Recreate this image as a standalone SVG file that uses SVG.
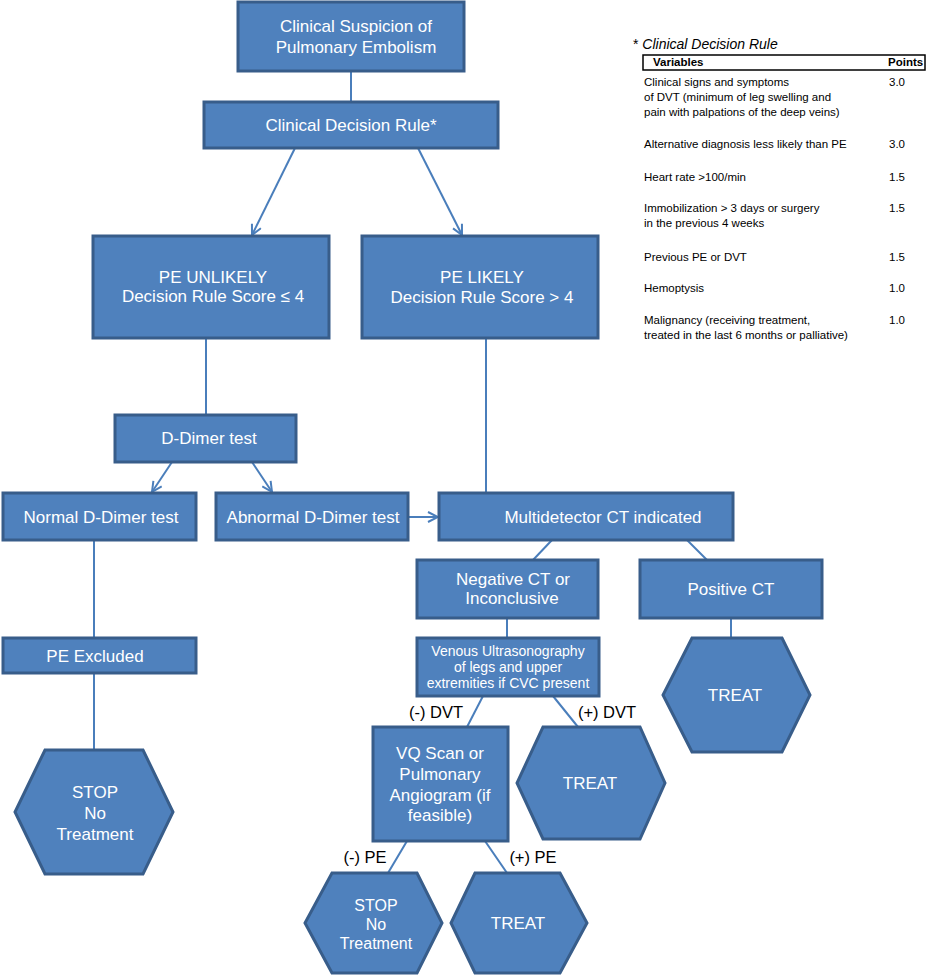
<svg xmlns="http://www.w3.org/2000/svg" width="933" height="980" viewBox="0 0 933 980">
<defs>
<style>
.box{fill:#4F81BD;stroke:#385D8A;stroke-width:3}
.t{font-family:"Liberation Sans",Arial,sans-serif;font-size:17px;fill:#fff;text-anchor:middle;dominant-baseline:central}
.ts{font-size:14px}
.lbl{font-family:"Liberation Sans",Arial,sans-serif;font-size:16.5px;fill:#000;text-anchor:middle;dominant-baseline:central}
.ln{stroke:#4A7EBB;stroke-width:2;fill:none}
.tb{font-family:"Liberation Sans",Arial,sans-serif;font-size:11.5px;fill:#000;dominant-baseline:central}
.b{font-weight:bold}
</style>
<marker id="arr" viewBox="0 0 12 12" refX="11" refY="6" markerWidth="12" markerHeight="12" markerUnits="userSpaceOnUse" orient="auto">
<path d="M1,1 L11,6 L1,11" fill="none" stroke="#4A7EBB" stroke-width="2"/>
</marker>
</defs>
<rect width="933" height="980" fill="#fff"/>

<g id="connectors">
<line class="ln" x1="351" y1="71" x2="351" y2="102"/>
<line class="ln" x1="295" y1="148" x2="252" y2="235" marker-end="url(#arr)"/>
<line class="ln" x1="418" y1="148" x2="462" y2="235" marker-end="url(#arr)"/>
<line class="ln" x1="206" y1="338" x2="206" y2="415"/>
<line class="ln" x1="172" y1="462" x2="152" y2="492" marker-end="url(#arr)"/>
<line class="ln" x1="252" y1="462" x2="272" y2="492" marker-end="url(#arr)"/>
<line class="ln" x1="408" y1="517" x2="438" y2="517" marker-end="url(#arr)"/>
<line class="ln" x1="486" y1="338" x2="486" y2="493"/>
<line class="ln" x1="94" y1="540" x2="94" y2="638"/>
<line class="ln" x1="94" y1="673" x2="94" y2="750"/>
<line class="ln" x1="552" y1="540" x2="533" y2="560"/>
<line class="ln" x1="687" y1="540" x2="707" y2="560"/>
<line class="ln" x1="507" y1="618" x2="507" y2="638"/>
<line class="ln" x1="731" y1="618" x2="731" y2="638"/>
<line class="ln" x1="483" y1="696" x2="467" y2="727"/>
<line class="ln" x1="553" y1="696" x2="578" y2="727"/>
<line class="ln" x1="407" y1="841" x2="388" y2="873"/>
<line class="ln" x1="485" y1="841" x2="507" y2="873"/>
<text class="lbl" x="436" y="712">(-) DVT</text>
<text class="lbl" x="607" y="712">(+) DVT</text>
<text class="lbl" x="365" y="857">(-) PE</text>
<text class="lbl" x="533" y="857">(+) PE</text>
</g>

<g id="n-suspicion">
<rect class="box" x="238" y="2" width="226" height="69"/>
<text class="t" x="356" y="26">Clinical Suspicion of</text>
<text class="t" x="356" y="47">Pulmonary Embolism</text>
</g>
<g id="n-rule">
<rect class="box" x="204" y="102" width="294" height="46"/>
<text class="t" x="351" y="125">Clinical Decision Rule*</text>
</g>
<g id="n-unlikely">
<rect class="box" x="93" y="236" width="236" height="102"/>
<text class="t" x="213" y="277">PE UNLIKELY</text>
<text class="t" x="213" y="296">Decision Rule Score ≤ 4</text>
</g>
<g id="n-likely">
<rect class="box" x="362" y="236" width="236" height="102"/>
<text class="t" x="482" y="277">PE LIKELY</text>
<text class="t" x="482" y="297">Decision Rule Score &gt; 4</text>
</g>
<g id="n-ddimer">
<rect class="box" x="115" y="415" width="181" height="47"/>
<text class="t" x="209" y="438">D-Dimer test</text>
</g>
<g id="n-normal">
<rect class="box" x="3" y="493" width="193" height="47"/>
<text class="t" x="101" y="517">Normal D-Dimer test</text>
</g>
<g id="n-abnormal">
<rect class="box" x="216" y="493" width="192" height="47"/>
<text class="t" x="313" y="517">Abnormal D-Dimer test</text>
</g>
<g id="n-mdct">
<rect class="box" x="439" y="493" width="294" height="47"/>
<text class="t" x="603" y="517">Multidetector CT indicated</text>
</g>
<g id="n-negct">
<rect class="box" x="417" y="560" width="181" height="58"/>
<text class="t" x="513" y="579">Negative CT or</text>
<text class="t" x="512" y="598">Inconclusive</text>
</g>
<g id="n-posct">
<rect class="box" x="640" y="560" width="182" height="58"/>
<text class="t" x="731" y="589">Positive CT</text>
</g>
<g id="n-excluded">
<rect class="box" x="3" y="638" width="193" height="35"/>
<text class="t" x="95" y="656">PE Excluded</text>
</g>
<g id="n-venous">
<rect class="box" x="417" y="638" width="182" height="58"/>
<text class="t ts" x="508" y="651">Venous Ultrasonography</text>
<text class="t ts" x="508" y="667">of legs and upper</text>
<text class="t ts" x="508" y="683">extremities if CVC present</text>
</g>
<g id="n-treat1">
<polygon class="box" points="692,638 782,638 810,695 782,752 692,752 663,695"/>
<text class="t" x="735" y="695">TREAT</text>
</g>
<g id="n-stop1">
<polygon class="box" points="45,750 143,750 173,812 143,874 45,874 15,812"/>
<text class="t" x="95" y="792">STOP</text>
<text class="t" x="95" y="813">No</text>
<text class="t" x="95" y="834">Treatment</text>
</g>
<g id="n-vq">
<rect class="box" x="373" y="727" width="135" height="114"/>
<text class="t" x="440" y="753">VQ Scan or</text>
<text class="t" x="440" y="774">Pulmonary</text>
<text class="t" x="440" y="795">Angiogram (if</text>
<text class="t" x="440" y="815">feasible)</text>
</g>
<g id="n-treat2">
<polygon class="box" points="543,727 640,727 665,783 640,839 543,839 517,783"/>
<text class="t" x="590" y="783">TREAT</text>
</g>
<g id="n-stop2">
<polygon class="box" points="332,873 417,873 442,923 417,973 332,973 305,923"/>
<text class="t" x="376" y="905" style="font-size:16px">STOP</text>
<text class="t" x="376" y="924" style="font-size:16px">No</text>
<text class="t" x="376" y="943" style="font-size:16px">Treatment</text>
</g>
<g id="n-treat3">
<polygon class="box" points="475,873 560,873 587,923 560,973 475,973 451,923"/>
<text class="t" x="518" y="923">TREAT</text>
</g>

<g id="table">
<text class="tb" x="633" y="44" style="font-size:14px">* <tspan font-style="italic">Clinical Decision Rule</tspan></text>
<rect x="643" y="55" width="282" height="15" fill="none" stroke="#000" stroke-width="1.5"/>
<text class="tb b" x="653" y="62">Variables</text>
<text class="tb b" x="888" y="62">Points</text>
<text class="tb" x="644" y="82">Clinical signs and symptoms</text>
<text class="tb" x="644" y="97">of DVT (minimum of leg swelling and</text>
<text class="tb" x="644" y="112">pain with palpations of the deep veins)</text>
<text class="tb" x="889" y="82">3.0</text>
<text class="tb" x="644" y="144">Alternative diagnosis less likely than PE</text>
<text class="tb" x="889" y="144">3.0</text>
<text class="tb" x="644" y="177">Heart rate &gt;100/min</text>
<text class="tb" x="889" y="177">1.5</text>
<text class="tb" x="644" y="208">Immobilization &gt; 3 days or surgery</text>
<text class="tb" x="644" y="223">in the previous 4 weeks</text>
<text class="tb" x="889" y="208">1.5</text>
<text class="tb" x="644" y="257">Previous PE or DVT</text>
<text class="tb" x="889" y="257">1.5</text>
<text class="tb" x="644" y="288">Hemoptysis</text>
<text class="tb" x="889" y="288">1.0</text>
<text class="tb" x="644" y="320">Malignancy (receiving treatment,</text>
<text class="tb" x="644" y="335">treated in the last 6 months or palliative)</text>
<text class="tb" x="889" y="320">1.0</text>
</g>
</svg>
